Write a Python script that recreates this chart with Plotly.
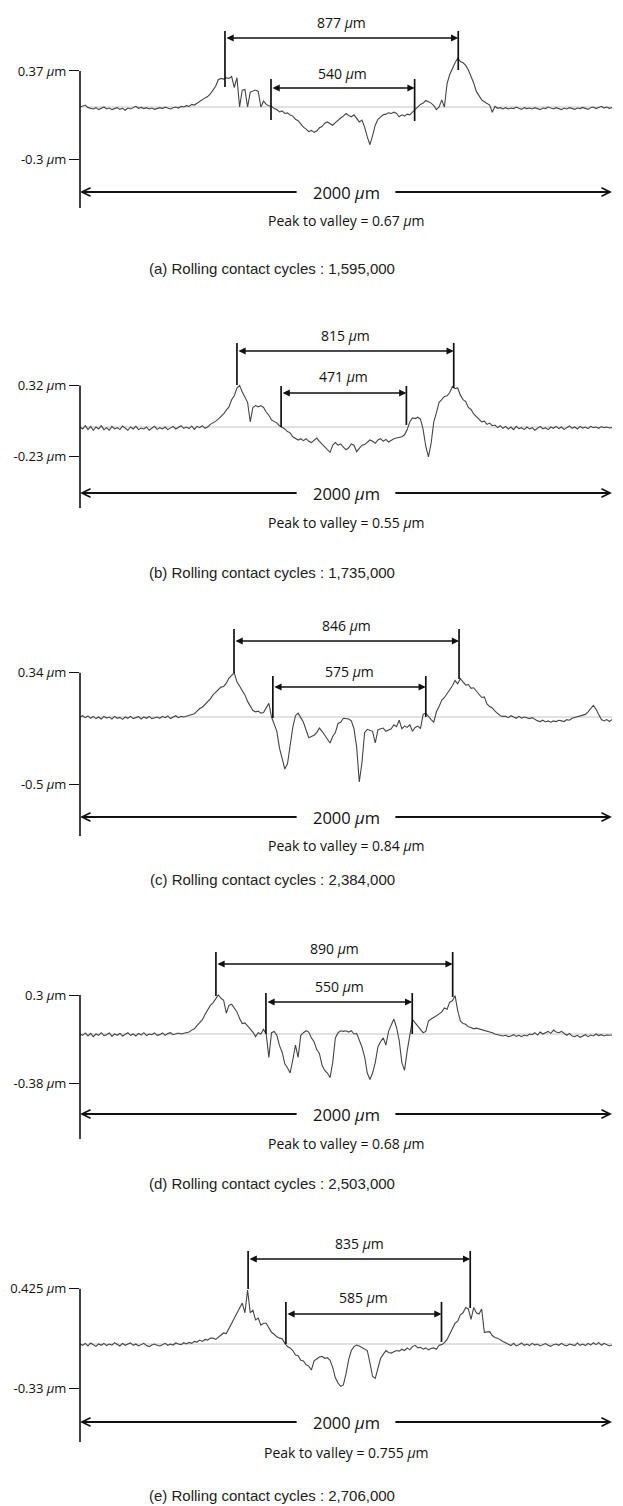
import plotly.graph_objects as go

# ---------------- data ----------------
x_um = list(range(0, 2001, 10))  # sampling positions along the 2000 um trace

profile_a = [
    0.000, 0.010, 0.015, -0.005, -0.010, -0.015, -0.005, -0.020, -0.010, 0.000,
    -0.015, -0.008, -0.020, -0.012, -0.005, -0.018, -0.010, -0.025, -0.008, -0.015,
    -0.005, 0.005, -0.010, -0.003, -0.012, -0.005, -0.015, -0.008, -0.018, -0.010,
    -0.005, -0.012, 0.000, -0.008, -0.015, -0.005, 0.000, -0.008, 0.005, 0.000,
    0.010, 0.005, 0.020, 0.015, 0.030, 0.040, 0.055, 0.070, 0.080, 0.100,
    0.130, 0.160, 0.210, 0.220, 0.215, 0.225, 0.220, 0.235, 0.150, 0.225,
    0.000, 0.130, 0.135, 0.000, 0.115, 0.125, 0.130, 0.120, 0.000, 0.045,
    0.020, 0.010, 0.005, -0.012, -0.020, -0.038, -0.030, -0.050, -0.045, -0.062,
    -0.070, -0.095, -0.105, -0.130, -0.155, -0.170, -0.190, -0.180, -0.195, -0.185,
    -0.160, -0.150, -0.125, -0.115, -0.130, -0.140, -0.120, -0.100, -0.085, -0.070,
    -0.050, -0.065, -0.075, -0.060, -0.090, -0.115, -0.100, -0.155, -0.230, -0.290,
    -0.220, -0.140, -0.095, -0.080, -0.060, -0.055, -0.045, -0.050, -0.040, -0.050,
    -0.075, -0.060, -0.070, -0.055, -0.060, -0.040, -0.020, 0.000, 0.020, 0.030,
    0.050, 0.040, 0.030, 0.010, -0.020, 0.000, 0.055, 0.000, 0.180, 0.250,
    0.300, 0.340, 0.375, 0.350, 0.340, 0.320, 0.285, 0.240, 0.185, 0.120,
    0.090, 0.055, 0.040, 0.030, 0.015, -0.040, 0.005, -0.010, -0.005, -0.015,
    -0.005, -0.015, -0.008, -0.012, 0.000, -0.010, -0.018, -0.005, -0.012, -0.008,
    -0.015, -0.005, -0.010, -0.020, -0.008, -0.012, 0.000, -0.010, -0.015, -0.005,
    -0.012, -0.020, -0.008, -0.015, -0.005, -0.010, -0.018, -0.008, -0.012, -0.003,
    -0.010, -0.018, -0.005, 0.000, -0.012, -0.005, 0.005, -0.008, 0.000, -0.010,
    -0.005,
]

profile_b = [
    0.000, -0.015, 0.010, -0.020, 0.005, -0.025, 0.000, -0.015, 0.010, -0.020,
    -0.005, -0.025, 0.005, -0.015, -0.005, -0.020, 0.008, -0.012, -0.025, 0.000,
    -0.015, 0.005, -0.020, -0.008, -0.015, 0.000, -0.025, -0.010, 0.005, -0.018,
    -0.005, -0.015, 0.000, -0.020, -0.008, 0.005, -0.015, -0.005, 0.010, -0.010,
    0.000, -0.012, 0.008, -0.018, 0.005, -0.005, 0.010, -0.010, 0.000, 0.020,
    0.030, 0.045, 0.060, 0.080, 0.100, 0.130, 0.155, 0.210, 0.240, 0.300,
    0.320, 0.270, 0.225, 0.190, 0.040, 0.150, 0.165, 0.155, 0.165, 0.150,
    0.115, 0.090, 0.055, 0.045, 0.030, 0.010, 0.000, -0.015, -0.035, -0.045,
    -0.075, -0.085, -0.100, -0.090, -0.105, -0.090, -0.110, -0.120, -0.100, -0.085,
    -0.110, -0.130, -0.155, -0.170, -0.195, -0.140, -0.120, -0.140, -0.130, -0.155,
    -0.175, -0.160, -0.130, -0.140, -0.190, -0.165, -0.140, -0.135, -0.120, -0.100,
    -0.110, -0.125, -0.100, -0.090, -0.110, -0.095, -0.115, -0.100, -0.090, -0.085,
    -0.080, -0.075, -0.060, -0.020, 0.040, 0.070, 0.065, 0.075, 0.060, -0.020,
    -0.150, -0.230, -0.125, 0.040, 0.110, 0.190, 0.210, 0.235, 0.240, 0.265,
    0.310, 0.295, 0.300, 0.245, 0.210, 0.195, 0.150, 0.135, 0.100, 0.080,
    0.060, 0.040, 0.045, 0.020, 0.030, 0.010, 0.015, -0.005, 0.010, -0.010,
    0.005, -0.015, 0.000, -0.020, 0.005, -0.012, -0.005, -0.020, 0.000, -0.015,
    -0.005, -0.025, -0.010, 0.005, -0.015, -0.005, -0.020, 0.000, -0.010, 0.005,
    -0.012, 0.000, -0.018, -0.005, 0.008, -0.010, 0.000, -0.015, 0.005, -0.008,
    0.000, -0.012, 0.005, -0.005, 0.000, -0.010, 0.003, -0.005, 0.000, -0.008,
    -0.005,
]

profile_c = [
    0.000, 0.010, -0.005, 0.008, -0.010, 0.005, -0.012, 0.000, -0.015, 0.005,
    -0.008, 0.000, -0.015, 0.005, -0.010, -0.003, -0.018, 0.000, -0.010, 0.005,
    -0.012, -0.005, 0.003, -0.015, 0.000, -0.010, 0.005, -0.012, -0.005, 0.000,
    -0.010, 0.005, -0.005, 0.008, -0.012, 0.000, 0.010, -0.005, 0.005, 0.000,
    0.005, 0.010, 0.020, 0.025, 0.045, 0.065, 0.075, 0.095, 0.120, 0.140,
    0.170, 0.190, 0.210, 0.230, 0.235, 0.260, 0.300, 0.320, 0.340, 0.270,
    0.240, 0.200, 0.170, 0.120, 0.080, 0.050, 0.040, 0.045, 0.030, 0.035,
    0.070, 0.105, 0.000, -0.060, -0.110, -0.240, -0.310, -0.400, -0.360, -0.200,
    -0.080, 0.010, 0.030, -0.005, -0.040, -0.100, -0.160, -0.150, -0.140, -0.120,
    -0.085, -0.110, -0.140, -0.170, -0.200, -0.150, -0.120, -0.050, -0.040, -0.010,
    -0.010, -0.015, -0.030, -0.090, -0.230, -0.500, -0.350, -0.120, -0.095, -0.100,
    -0.110, -0.200, -0.100, -0.090, -0.085, -0.110, -0.100, -0.090, -0.060, -0.075,
    -0.025, -0.090, -0.070, -0.080, -0.060, -0.110, -0.080, -0.070, -0.090, 0.020,
    0.030, 0.000, -0.020, -0.040, 0.040, 0.080, 0.130, 0.150, 0.185, 0.210,
    0.240, 0.280, 0.255, 0.295, 0.270, 0.245, 0.250, 0.220, 0.225, 0.200,
    0.170, 0.150, 0.155, 0.100, 0.080, 0.070, 0.045, 0.030, 0.010, 0.005,
    0.005, -0.005, 0.010, 0.000, -0.010, 0.005, -0.008, 0.000, -0.005, -0.012,
    -0.005, -0.020, -0.030, -0.035, -0.025, -0.038, -0.030, -0.040, -0.030, -0.035,
    -0.025, -0.030, -0.035, -0.020, -0.025, -0.010, -0.005, 0.000, 0.010, 0.015,
    0.020, 0.040, 0.070, 0.090, 0.060, 0.020, -0.020, -0.030, -0.020, -0.035,
    -0.020,
]

profile_d = [
    0.000, -0.010, 0.008, -0.015, 0.005, -0.020, 0.000, -0.010, 0.010, -0.012,
    -0.005, 0.008, -0.018, 0.000, -0.010, 0.005, -0.015, -0.005, 0.010, -0.010,
    0.000, -0.015, 0.005, -0.008, 0.010, -0.012, 0.000, -0.005, 0.008, -0.010,
    -0.005, 0.008, -0.010, 0.003, 0.010, -0.005, 0.000, 0.008, 0.000, 0.005,
    0.010, 0.015, 0.030, 0.040, 0.065, 0.090, 0.110, 0.150, 0.185, 0.220,
    0.240, 0.270, 0.300, 0.275, 0.260, 0.160, 0.220, 0.230, 0.200, 0.170,
    0.120, 0.080, 0.085, 0.060, 0.035, 0.015, -0.020, 0.010, 0.000, 0.035,
    0.000, -0.180, 0.010, 0.020, -0.010, -0.090, -0.140, -0.230, -0.260, -0.300,
    -0.200, -0.085, -0.180, -0.010, 0.010, 0.025, 0.015, -0.030, -0.060, -0.120,
    -0.150, -0.240, -0.280, -0.300, -0.335, -0.220, -0.030, 0.010, 0.025, 0.020,
    0.025, 0.015, 0.025, 0.000, 0.005, -0.045, -0.100, -0.175, -0.300, -0.350,
    -0.300, -0.220, -0.100, -0.060, -0.030, -0.085, 0.020, 0.070, 0.115, 0.050,
    -0.050, -0.220, -0.280, -0.130, 0.000, 0.110, 0.085, 0.060, 0.030, 0.010,
    0.020, 0.100, 0.115, 0.125, 0.140, 0.155, 0.170, 0.200, 0.190, 0.245,
    0.255, 0.295, 0.180, 0.100, 0.080, 0.075, 0.055, 0.050, 0.040, 0.045,
    0.040, 0.030, 0.025, 0.020, 0.015, 0.010, 0.000, -0.005, -0.010, -0.015,
    -0.010, -0.020, -0.015, -0.005, -0.018, -0.010, -0.020, -0.008, -0.015, 0.000,
    -0.005, 0.010, -0.008, 0.015, 0.000, 0.010, 0.020, 0.005, 0.030, 0.015,
    0.010, 0.020, 0.005, -0.010, 0.005, -0.015, -0.020, -0.010, -0.025, -0.015,
    -0.005, -0.020, -0.008, -0.015, 0.000, -0.012, -0.005, -0.015, -0.008, -0.010,
    -0.008,
]

profile_e = [
    0.000, -0.010, 0.005, -0.015, 0.008, -0.005, -0.018, 0.000, -0.010, 0.005,
    -0.012, 0.000, -0.008, 0.010, -0.005, -0.015, 0.005, -0.010, 0.000, 0.008,
    -0.010, 0.000, -0.015, -0.005, 0.005, -0.012, -0.020, -0.008, 0.000, -0.010,
    -0.015, -0.005, 0.005, -0.010, 0.000, -0.008, 0.008, 0.000, -0.005, 0.010,
    0.000, 0.012, 0.005, 0.020, 0.015, 0.030, 0.020, 0.035, 0.030, 0.045,
    0.045, 0.035, 0.050, 0.070, 0.085, 0.080, 0.120, 0.160, 0.200, 0.240,
    0.285, 0.315, 0.240, 0.415, 0.240, 0.260, 0.185, 0.200, 0.145, 0.160,
    0.160, 0.130, 0.090, 0.075, 0.055, 0.045, 0.040, 0.005, -0.020, -0.030,
    -0.050, -0.085, -0.090, -0.125, -0.130, -0.160, -0.170, -0.200, -0.130, -0.115,
    -0.100, -0.095, -0.110, -0.105, -0.125, -0.180, -0.260, -0.300, -0.325, -0.315,
    -0.230, -0.120, -0.050, -0.020, -0.008, -0.015, -0.025, -0.040, -0.050, -0.145,
    -0.250, -0.265, -0.190, -0.110, -0.080, -0.050, -0.065, -0.070, -0.060, -0.050,
    -0.055, -0.040, -0.050, -0.030, -0.045, -0.020, -0.010, -0.030, -0.025, -0.040,
    -0.030, -0.045, -0.035, -0.030, -0.040, -0.010, -0.005, 0.010, 0.035, 0.075,
    0.110, 0.160, 0.175, 0.225, 0.240, 0.280, 0.270, 0.190, 0.280, 0.240,
    0.230, 0.270, 0.090, 0.090, 0.095, 0.065, 0.050, 0.045, 0.030, 0.020,
    0.010, 0.000, -0.012, 0.005, -0.015, -0.005, 0.008, -0.010, 0.000, -0.012,
    0.005, -0.008, 0.000, -0.015, -0.005, 0.003, -0.010, -0.018, -0.005, 0.000,
    -0.010, 0.005, -0.008, -0.015, 0.000, -0.005, -0.012, 0.008, -0.010, 0.000,
    -0.012, 0.005, -0.008, 0.010, -0.005, 0.012, -0.010, 0.005, -0.008, -0.015,
    -0.008,
]

profiles = [profile_a, profile_b, profile_c, profile_d, profile_e]
panel_tags = ["(a)", "(b)", "(c)", "(d)", "(e)"]
cycles = ["1,595,000", "1,735,000", "2,384,000", "2,503,000", "2,706,000"]
peak_to_valley = ["0.67", "0.55", "0.84", "0.68", "0.755"]
tick_labels = [["0.37", "-0.3"], ["0.32", "-0.23"], ["0.34", "-0.5"],
               ["0.3", "-0.38"], ["0.425", "-0.33"]]
# tick marks as drawn in the reference (um, same scale as the trace)
tick_drawn_at = [[0.277, -0.400], [0.320, -0.230], [0.340, -0.520],
                 [0.300, -0.380], [0.425, -0.345]]
scan_length = 2000
outer_width = [877, 815, 846, 890, 835]
outer_start = [545, 590, 579, 511, 632]
inner_width = [540, 471, 575, 550, 585]
inner_start = [718, 756, 725, 699, 774]

# ---------------- layout geometry (pixels in the 623 x 1506 page) ----------------
W, H = 623, 1506
X0, X1 = 80, 612
PX_PER_UM = 130.0
baseline_px = [107, 427, 717, 1034, 1344]
outer_text_px = [23, 335, 625, 948, 1243]
outer_line_px = [38, 351, 641, 964, 1259]
outer_vtop_px = [31, 343, 629, 952, 1251]
outer_vbot_px = [(87, 70), (385, 388), (673, 679), (996, 997), (1289, 1308)]
inner_text_px = [74, 376, 671, 986, 1297]
inner_line_px = [88, 393, 687, 1002, 1314]
inner_vtop_px = [79, 386, 676, 993, 1302]
inner_vbot_px = [(120, 121), (427, 425), (718, 717), (1034, 1034), (1344, 1342)]
arrow_px = [192, 493, 817, 1114, 1422]
axis_bot_px = [208, 508, 836, 1139, 1442]
ptv_px = [221, 522, 846, 1143, 1452]
caption_px = [268, 572, 879, 1183, 1495]
ptv_center_px = 346
caption_center_px = 272
gap_left_um, gap_right_um = 820, 1180

DIM_FONT = "Open Sans, Noto Sans, sans-serif"
CAP_FONT = "Liberation Sans, Arial, sans-serif"
UM = "<i>\u03bc</i>m"

fig = go.Figure()
layout = dict(width=W, height=H, margin=dict(l=0, r=0, t=0, b=0, pad=0),
              paper_bgcolor="white", plot_bgcolor="white", showlegend=False)
shapes, annotations = [], []


def label(**kw):
    base = dict(showarrow=False, xanchor="center", yanchor="middle")
    base.update(kw)
    return base


for i in range(5):
    n = "" if i == 0 else str(i + 1)
    xa, ya = "x" + n, "y" + n
    b = baseline_px[i]

    def yv(p, b=b):
        return (b - p) / PX_PER_UM

    top = outer_text_px[i] - 12
    bot = axis_bot_px[i] + 4

    fig.add_trace(go.Scatter(x=x_um, y=profiles[i], mode="lines",
                             line=dict(color="#454545", width=1.1),
                             xaxis=xa, yaxis=ya, hoverinfo="skip"))

    layout["xaxis" + n] = dict(domain=[X0 / W, X1 / W], range=[0, scan_length],
                               visible=False, anchor=ya, fixedrange=True)
    layout["yaxis" + n] = dict(domain=[1 - bot / H, 1 - top / H],
                               range=[yv(bot), yv(top)], anchor=xa,
                               tickvals=tick_drawn_at[i],
                               ticktext=[t + " " + UM for t in tick_labels[i]],
                               ticks="outside", ticklen=10, tickwidth=1.4,
                               tickcolor="#111", showgrid=False, zeroline=False,
                               showline=False, fixedrange=True, automargin=False,
                               tickfont=dict(family=DIM_FONT, size=13, color="#111"))

    # zero reference line
    shapes.append(dict(type="line", xref=xa, yref=ya, x0=0, x1=scan_length, y0=0, y1=0,
                       line=dict(color="#c4c4c4", width=1), layer="below"))
    # vertical axis line
    shapes.append(dict(type="line", xref="paper", yref=ya, x0=X0 / W, x1=X0 / W,
                       y0=tick_drawn_at[i][0], y1=yv(axis_bot_px[i]),
                       line=dict(color="#111", width=1.6)))

    # dimension markers
    for start, width, t_px, l_px, vtop, vbots in [
        (outer_start[i], outer_width[i], outer_text_px[i], outer_line_px[i],
         outer_vtop_px[i], outer_vbot_px[i]),
        (inner_start[i], inner_width[i], inner_text_px[i], inner_line_px[i],
         inner_vtop_px[i], inner_vbot_px[i])]:
        end = start + width
        for xv, vb in ((start, vbots[0]), (end, vbots[1])):
            shapes.append(dict(type="line", xref=xa, yref=ya, x0=xv, x1=xv,
                               y0=yv(vtop), y1=yv(vb),
                               line=dict(color="#111", width=1.7)))
        annotations.append(dict(xref=xa, yref=ya, axref=xa, ayref=ya,
                                x=end, y=yv(l_px), ax=start, ay=yv(l_px), text="",
                                showarrow=True, arrowside="end+start",
                                arrowhead=2, startarrowhead=2,
                                arrowsize=0.85, startarrowsize=0.85,
                                arrowwidth=1.7, arrowcolor="#111",
                                standoff=0, startstandoff=0))
        annotations.append(label(xref=xa, yref=ya, x=(start + end) / 2, y=yv(t_px),
                                 text=f"{width} {UM}",
                                 font=dict(family=DIM_FONT, size=14, color="#111")))

    # 2000 um span arrow
    ay_ = yv(arrow_px[i])
    for head, tail in ((0, gap_left_um), (scan_length, gap_right_um)):
        annotations.append(dict(xref=xa, yref=ya, axref=xa, ayref=ya,
                                x=head, y=ay_, ax=tail, ay=ay_, text="",
                                showarrow=True, arrowhead=5, arrowsize=0.85,
                                arrowwidth=2, arrowcolor="#111", standoff=0))
    annotations.append(label(xref=xa, yref=ya, x=scan_length / 2, y=ay_,
                             text=f"{scan_length} {UM}",
                             font=dict(family=DIM_FONT, size=16.5, color="#111")))

    annotations.append(label(xref="paper", yref="paper", x=ptv_center_px / W,
                             y=1 - ptv_px[i] / H,
                             text=f"Peak to valley = {peak_to_valley[i]} {UM}",
                             font=dict(family=DIM_FONT, size=14, color="#111")))
    annotations.append(label(xref="paper", yref="paper", x=caption_center_px / W,
                             y=1 - caption_px[i] / H,
                             text=f"{panel_tags[i]} Rolling contact cycles : {cycles[i]}",
                             font=dict(family=CAP_FONT, size=15, color="#222")))

layout["shapes"] = shapes
layout["annotations"] = annotations
fig.update_layout(**layout)
fig.write_html("out.html", config={"displayModeBar": False},
               post_script="document.body.style.margin='0px';"
                           "document.body.style.overflow='hidden';")
